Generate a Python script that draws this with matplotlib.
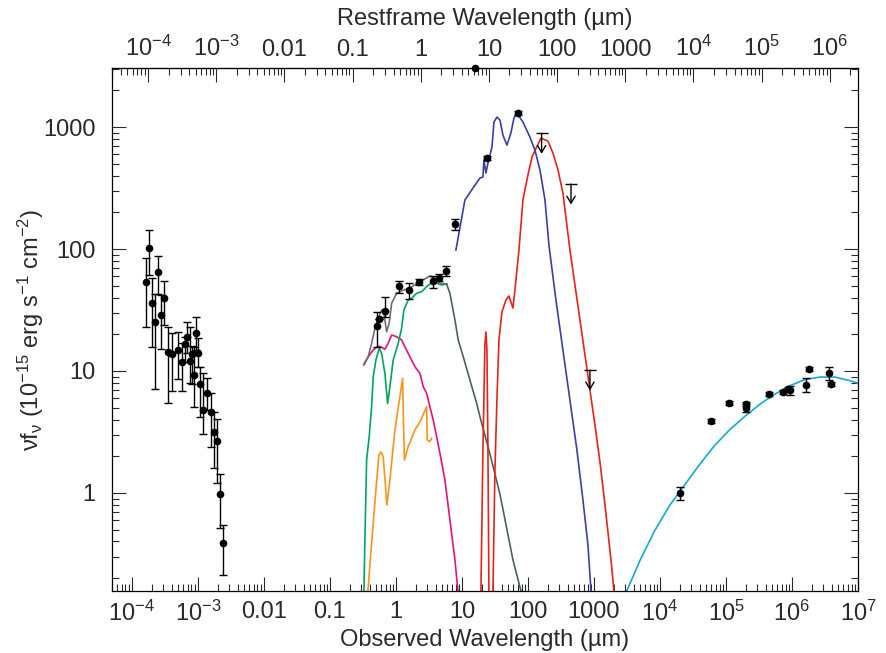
import numpy as np
import matplotlib
matplotlib.use('Agg')
import matplotlib.pyplot as plt
from matplotlib.ticker import FixedLocator, LogLocator, NullFormatter

plt.rcParams['font.family'] = ['Liberation Sans', 'DejaVu Sans']
plt.rcParams['mathtext.default'] = 'regular'

# restframe axis as drawn in the figure: log(obs) = top_scale * log(rest) + top_offset
top_scale = 1.033
top_offset = 0.376

# X-ray points (observed wavelength in micron, flux with error range)
xray_wl = [1.63e-4, 1.83e-4, 2.01e-4, 2.25e-4, 2.50e-4, 2.75e-4, 3.08e-4, 3.47e-4, 4.08e-4,
           4.92e-4, 5.73e-4, 6.43e-4, 6.89e-4, 7.49e-4, 8.03e-4, 8.70e-4, 9.33e-4, 9.89e-4,
           1.06e-3, 1.20e-3, 1.38e-3, 1.56e-3, 1.75e-3, 1.92e-3, 2.13e-3, 2.42e-3]
xray_f = [54.0, 102.5, 36.3, 25.1, 65.2, 28.6, 39.9, 14.2, 13.8, 14.9, 11.8, 16.6, 18.9,
          12.1, 13.8, 9.22, 20.5, 14.1, 7.82, 4.79, 6.56, 4.59, 3.14, 2.67, 0.976, 0.387]
xray_hi = [84.9, 143, 57.8, 42.8, 87.7, 42.0, 55.0, 22.8, 20.6, 21.0, 16.9, 19.1, 25.4,
           22.8, 16.0, 15.6, 27.9, 18.5, 10.8, 9.57, 8.71, 6.56, 4.64, 4.02, 1.43, 0.547]
xray_lo = [23.1, 61.2, 15.6, 7.08, 42.8, 15.1, 23.8, 5.50, 6.90, 8.55, 6.86, 11.9, 14.0,
           7.93, 7.82, 5.10, 14.9, 10.8, 4.22, 3.03, 4.79, 2.40, 1.59, 1.20, 0.514, 0.213]

# optical / infrared photometry
ir_wl = [0.521, 0.547, 0.675, 1.10, 1.59, 2.23, 3.60, 4.43, 5.78, 7.91, 23.7, 69.8]
ir_f = [23.4, 26.5, 31.2, 49.7, 46.1, 53.9, 54.7, 58.2, 66.1, 160, 554, 1309]
ir_hi = [30.6, 26.5, 40.6, 55.0, 52.9, 56.4, 60.1, 62.4, 72.6, 175, 575, 1361]
ir_lo = [15.8, 26.5, 27.9, 43.8, 38.7, 50.7, 47.6, 55.0, 60.1, 143, 535, 1254]
edge_wl = [15.7]
edge_f = [3030]

# sub-mm upper limits
lim_wl = [161, 449, 869]
lim_f = [888, 341, 10.2]

# radio points
radio_wl = [2.01e4, 5.93e4, 1.11e5, 2.01e5, 2.01e5, 4.49e5, 7.31e5, 8.69e5, 9.33e5,
            1.63e6, 1.81e6, 3.64e6, 3.90e6]
radio_f = [1.0, 3.89, 5.47, 5.37, 4.97, 6.48, 6.73, 7.12, 6.98, 7.68, 10.4, 9.63, 7.82]
radio_hi = [1.12, 4.05, 5.65, 5.6, 5.35, 6.7, 6.95, 7.4, 7.6, 8.75, 10.8, 10.8, 8.1]
radio_lo = [0.877, 3.73, 5.3, 5.15, 4.65, 6.27, 6.5, 6.85, 6.4, 6.73, 10.0, 8.4, 7.55]

# model curves, log10(wavelength) and log10(flux)
gray_lx = [-0.485, -0.420, -0.368, -0.318, -0.268, -0.217, -0.182, -0.141, -0.102, -0.065,
           0.011, 0.111, 0.212, 0.314, 0.414, 0.515, 0.591, 0.667, 0.768]
gray_ly = [1.057, 1.117, 1.227, 1.350, 1.432, 1.500, 1.473, 1.322, 1.391, 1.555,
           1.637, 1.664, 1.678, 1.719, 1.746, 1.779, 1.760, 1.719, 1.713]
green_lx = [-0.485, -0.470, -0.444, -0.405, -0.368, -0.344, -0.303, -0.253, -0.217, -0.167,
            -0.126, -0.091, -0.041, 0.035, 0.086, 0.121, 0.186, 0.238, 0.314, 0.389,
            0.465, 0.541, 0.617, 0.692, 0.768]
green_ly = [-0.803, -0.385, 0.270, 0.461, 0.707, 0.953, 1.090, 1.186, 1.145, 0.981,
            0.735, 0.871, 1.090, 1.227, 1.350, 1.500, 1.582, 1.596, 1.637, 1.650,
            1.691, 1.724, 1.719, 1.705, 1.713]
tail_lx = [0.768, 0.818, 0.894, 0.944, 1.020, 1.121, 1.223, 1.273, 1.424, 1.576, 1.773, 1.894]
tail_ly = [1.713, 1.637, 1.418, 1.254, 1.117, 0.926, 0.735, 0.625, 0.320, -0.010, -0.549, -0.803]
magenta_lx = [-0.485, -0.420, -0.344, -0.268, -0.217, -0.167, -0.117, -0.065, 0.011, 0.086,
              0.136, 0.212, 0.288, 0.364, 0.414, 0.465, 0.515, 0.565, 0.617, 0.667,
              0.742, 0.818, 0.894, 0.939]
magenta_ly = [1.049, 1.117, 1.172, 1.205, 1.194, 1.178, 1.227, 1.295, 1.281, 1.254,
              1.199, 1.117, 1.035, 0.981, 0.871, 0.817, 0.707, 0.598, 0.461, 0.325,
              0.107, -0.221, -0.549, -0.803]
orange_lx = [-0.424, -0.364, -0.303, -0.258, -0.227, -0.192, -0.136, -0.091, -0.015, 0.102,
             0.114, 0.129, 0.186, 0.288, 0.379, 0.465, 0.474, 0.515, 0.541]
orange_ly = [-0.803, -0.385, 0.025, 0.311, 0.336, 0.295, -0.098, 0.107, 0.516, 0.940,
             0.598, 0.270, 0.380, 0.516, 0.598, 0.707, 0.434, 0.420, 0.448]
blue_lx = [0.909, 1.045, 1.076, 1.167, 1.273, 1.318, 1.333, 1.364, 1.394, 1.455, 1.485,
           1.530, 1.576, 1.621, 1.682, 1.742, 1.788, 1.833, 1.924, 2.030, 2.106, 2.182,
           2.258, 2.318, 2.424, 2.530, 2.636, 2.742, 2.833, 2.909, 2.955]
blue_ly = [1.992, 2.402, 2.426, 2.500, 2.582, 2.590, 2.730, 2.623, 2.705, 2.836, 3.041,
           3.082, 3.057, 2.934, 2.852, 2.951, 3.074, 3.115, 3.041, 2.918, 2.811, 2.648,
           2.402, 2.033, 1.582, 1.172, 0.762, 0.352, -0.057, -0.426, -0.803]
red_spike_lx = [1.288, 1.318, 1.348, 1.364, 1.379, 1.394, 1.409]
red_spike_ly = [-0.803, 0.352, 1.213, 1.320, 1.172, 0.352, -0.803]
red_lx = [1.470, 1.500, 1.530, 1.561, 1.606, 1.667, 1.712, 1.742, 1.773, 1.803, 1.864,
          1.924, 2.000, 2.061, 2.197, 2.303, 2.379, 2.455, 2.530, 2.636, 2.712, 2.788,
          2.864, 2.939, 3.015, 3.091, 3.167, 3.258, 3.303]
red_ly = [-0.803, 0.189, 0.762, 1.254, 1.484, 1.582, 1.615, 1.566, 1.516, 1.664, 1.992,
          2.402, 2.607, 2.754, 2.910, 2.885, 2.787, 2.648, 2.459, 1.992, 1.705, 1.418,
          1.131, 0.844, 0.557, 0.254, -0.098, -0.549, -0.803]
cyan_lx = [3.50, 3.70, 3.92, 4.15, 4.38, 4.61, 4.83, 5.06, 5.29, 5.52, 5.74, 5.97,
           6.20, 6.42, 6.65, 6.88, 7.00]
cyan_ly = [-0.80, -0.55, -0.31, -0.10, 0.07, 0.24, 0.39, 0.52, 0.63, 0.73, 0.81, 0.88,
           0.93, 0.95, 0.95, 0.92, 0.90]

bottom_ticks = [1e-4, 1e-3, 1e-2, 1e-1, 1, 10, 100, 1000, 1e4, 1e5, 1e6, 1e7]
bottom_labels = ['10$^{−4}$', '10$^{−3}$', '0.01', '0.1', '1', '10', '100', '1000',
                 '10$^{4}$', '10$^{5}$', '10$^{6}$', '10$^{7}$']
top_ticks = [1e-4, 1e-3, 1e-2, 1e-1, 1, 10, 100, 1000, 1e4, 1e5, 1e6]
top_labels = ['10$^{−4}$', '10$^{−3}$', '0.01', '0.1', '1', '10', '100', '1000',
              '10$^{4}$', '10$^{5}$', '10$^{6}$']
y_ticks = [1, 10, 100, 1000]
y_labels = ['1', '10', '100', '1000']

TXT = '#2a2a2a'


def curve(ax, lx, ly, color, lw=1.2):
    ax.plot(10 ** np.array(lx), 10 ** np.array(ly), color=color, lw=lw)


def with_err(ax, wl, f, lo, hi, ms=4.5, cap=2.8):
    f = np.array(f)
    yerr = [f - np.array(lo), np.array(hi) - f]
    ax.errorbar(wl, f, yerr=yerr, fmt='o', color='black', ms=ms, elinewidth=1.0,
                capsize=cap, capthick=1.0, zorder=5)


def obs_to_rest(x):
    x = np.clip(np.asarray(x, dtype=float), 1e-300, None)
    return 10 ** ((np.log10(x) - top_offset) / top_scale)


def rest_to_obs(x):
    x = np.clip(np.asarray(x, dtype=float), 1e-300, None)
    return 10 ** (np.log10(x) * top_scale + top_offset)


fig = plt.figure(figsize=(8.87, 6.53), dpi=100)
ax = fig.add_axes([112 / 887, 62 / 653, 746 / 887, 523 / 653])
ax.set_xscale('log')
ax.set_yscale('log')
ax.set_xlim(5e-5, 1e7)
ax.set_ylim(0.157, 3050)

curve(ax, orange_lx, orange_ly, '#f7941d')
curve(ax, magenta_lx, magenta_ly, '#e2127f')
curve(ax, green_lx, green_ly, '#00a45f')
curve(ax, gray_lx, gray_ly, '#6f6f6f')
curve(ax, tail_lx, tail_ly, '#4c6357')
curve(ax, red_spike_lx, red_spike_ly, '#e3241b')
curve(ax, red_lx, red_ly, '#e3241b')
curve(ax, blue_lx, blue_ly, '#3a3ea6')
curve(ax, cyan_lx, cyan_ly, '#16a7d9')

with_err(ax, xray_wl, xray_f, xray_lo, xray_hi)
with_err(ax, ir_wl, ir_f, ir_lo, ir_hi)
with_err(ax, radio_wl, radio_f, radio_lo, radio_hi)
ax.plot(edge_wl, edge_f, 'o', color='black', ms=4.5, clip_on=False, zorder=6)

# upper limits: cap plus open arrow pointing down
for w, f in zip(lim_wl, lim_f):
    ax.plot([w], [f], marker='_', ms=9, mew=1.0, color='black')
    ax.annotate('', xy=(w, f * 0.68), xytext=(w, f),
                arrowprops=dict(arrowstyle='->,head_length=0.5,head_width=0.3',
                                lw=1.0, color='black', shrinkA=0, shrinkB=0))

ax.xaxis.set_major_locator(FixedLocator(bottom_ticks))
ax.set_xticklabels(bottom_labels)
ax.xaxis.set_minor_locator(LogLocator(base=10, subs=np.arange(2, 10), numticks=100))
ax.xaxis.set_minor_formatter(NullFormatter())
ax.yaxis.set_major_locator(FixedLocator(y_ticks))
ax.set_yticklabels(y_labels)
ax.yaxis.set_minor_locator(LogLocator(base=10, subs=np.arange(2, 10), numticks=100))
ax.yaxis.set_minor_formatter(NullFormatter())
ax.tick_params(which='both', direction='in', right=True, top=False, width=0.8,
               labelsize=17, colors=TXT)
ax.tick_params(which='major', length=10)
ax.tick_params(which='minor', length=5)
ax.tick_params(axis='x', pad=7)
ax.tick_params(axis='y', pad=12)
for s in ax.spines.values():
    s.set_linewidth(0.9)

sec = ax.secondary_xaxis('top', functions=(obs_to_rest, rest_to_obs))
sec.xaxis.set_major_locator(FixedLocator(top_ticks))
sec.set_xticklabels(top_labels)
sec.xaxis.set_minor_locator(LogLocator(base=10, subs=np.arange(2, 10), numticks=100))
sec.xaxis.set_minor_formatter(NullFormatter())
sec.tick_params(which='both', direction='in', width=0.8, labelsize=17, pad=5,
                colors=TXT)
sec.tick_params(which='major', length=10)
sec.tick_params(which='minor', length=5)
sec.set_xlabel('Restframe Wavelength (µm)', fontsize=17, labelpad=8, color=TXT)

ax.set_xlabel('Observed Wavelength (µm)', fontsize=17, labelpad=2, color=TXT)
ax.set_ylabel('νf$_{ν}$ (10$^{−15}$ erg s$^{−1}$ cm$^{−2}$)', fontsize=17, labelpad=-2,
              color=TXT)

fig.savefig('out.png', dpi=100)
